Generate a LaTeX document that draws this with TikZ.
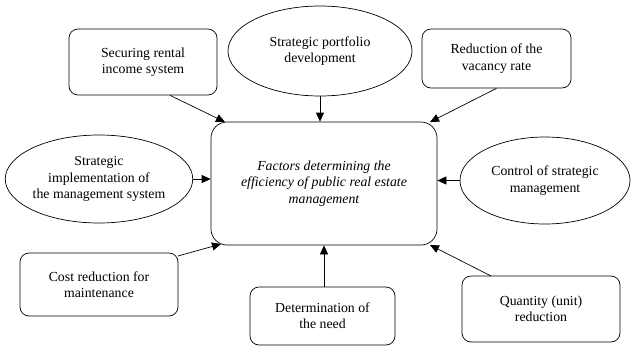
\documentclass[tikz,border=0pt]{standalone}
\usepackage{fontspec}
\setmainfont{Liberation Serif}
\usetikzlibrary{arrows.meta,shapes.geometric}
\begin{document}
\begin{tikzpicture}[x=1pt,y=-1pt,
  rbox/.style={draw,rounded corners=9pt,align=center,font=\fontsize{13.8}{16.3}\selectfont,inner sep=0pt},
  ell/.style={draw,ellipse,align=center,font=\fontsize{13.8}{16.3}\selectfont,inner sep=0pt},
  arr/.style={-{Triangle[length=9pt,width=8pt]},line width=0.7pt},
  every node/.style={line width=0.7pt}]
\useasboundingbox (0,0) rectangle (635,346);
\node[rbox,minimum width=226pt,minimum height=123pt,rounded corners=16pt,font=\itshape\fontsize{13.8}{16.3}\selectfont] (c) at (324,183.5) {Factors determining the\\efficiency of public real estate\\management};
\node[rbox,minimum width=148pt,minimum height=66pt] (a) at (143,62) {Securing rental\\income system};
\node[ell,minimum width=184pt,minimum height=90pt] (b) at (320,51) {Strategic portfolio\\development};
\node[rbox,minimum width=149pt,minimum height=59pt] (d) at (496.5,58.5) {Reduction of the\\vacancy rate};
\node[ell,minimum width=182pt,minimum height=88pt] (e) at (99,179) {Strategic\\implementation of\\the management system};
\node[ell,minimum width=170pt,minimum height=87pt] (f) at (545,180.5) {Control of strategic\\management};
\node[rbox,minimum width=158pt,minimum height=63pt] (g) at (99,284.5) {Cost reduction for\\maintenance};
\node[rbox,minimum width=145pt,minimum height=58pt] (h) at (322.5,316) {Determination of\\the need};
\node[rbox,minimum width=158pt,minimum height=66pt] (i) at (541,309) {Quantity (unit)\\reduction};
\draw[arr] (a.south) ++(27,0) coordinate (a1) (a1) -- (225,122) coordinate (c1);
\draw[arr] (b.south) -- (c.north -| b.south);
\draw[arr] (d.south) -- (430,122);
\draw[arr] (e.east) -- (c.west |- e.east);
\draw[arr] (f.west) -- (c.east |- f.west);
\draw[arr] (178,256) -- (221,244);
\draw[arr] (h.north -| c.south) -- (c.south);
\draw[arr] (491,276) -- (430,245);
\end{tikzpicture}
\end{document}
